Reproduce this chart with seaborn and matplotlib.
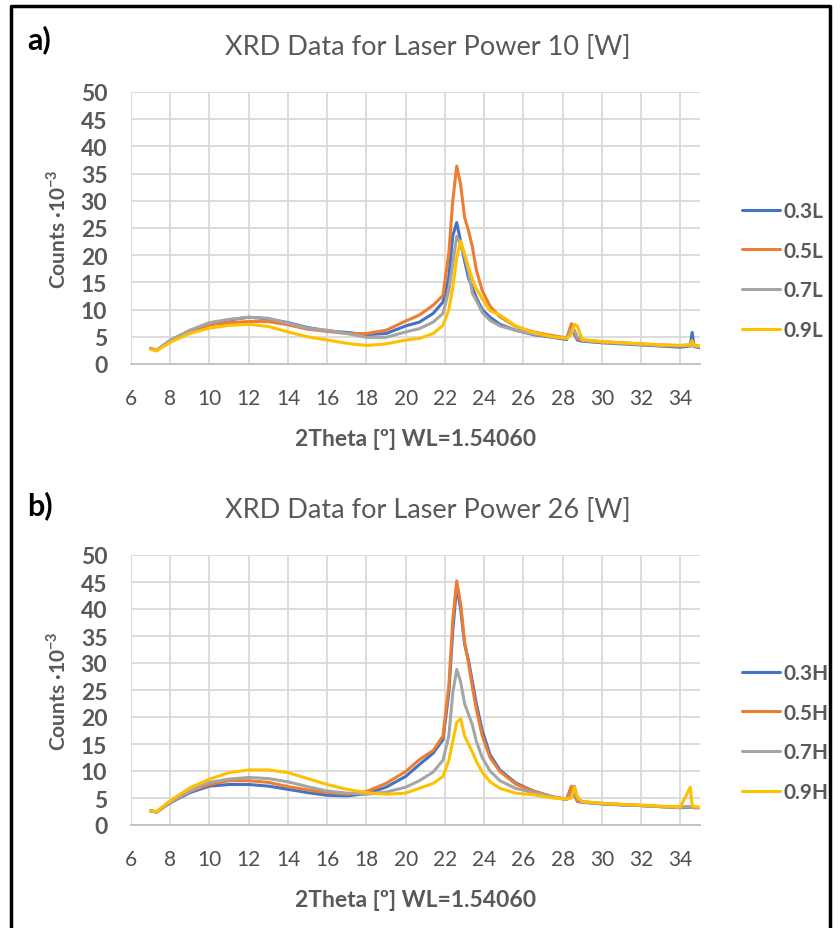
import pandas as pd
import matplotlib
matplotlib.use("Agg")
import matplotlib.pyplot as plt
from matplotlib.lines import Line2D
import seaborn as sns

# 2theta positions (shared by both panels)
two_theta = [7.0, 7.3, 8, 9, 10, 11, 12, 13, 14, 15, 16, 17, 18, 19, 20, 20.7, 21.4, 21.9,
             22.2, 22.4, 22.6, 22.8, 23.0, 23.2, 23.4, 23.6, 23.9, 24.3, 24.8, 25.6, 26.5,
             27.5, 28.2, 28.45, 28.6, 28.75, 29.0, 30, 31, 32, 33, 34, 34.5, 34.6, 34.7, 35]

# a) laser power 10 W  (counts * 10^-3)
low_03 = [2.8, 2.5, 4.3, 6.1, 7.5, 8.1, 8.6, 8.3, 7.6, 6.7, 6.1, 5.8, 5.4, 5.6, 7.0, 7.7, 9.3, 11.4,
          16.0, 23.6, 26.0, 22.5, 19.0, 15.8, 14.0, 12.2, 10.0, 8.6, 7.3, 6.2, 5.4,
          4.9, 4.5, 6.8, 5.5, 4.4, 4.2, 3.9, 3.7, 3.5, 3.3, 3.1, 3.3, 5.8, 3.2, 3.0]
low_05 = [2.9, 2.5, 4.2, 5.8, 7.2, 7.6, 7.8, 7.8, 7.2, 6.4, 6.0, 5.6, 5.6, 6.2, 7.9, 9.0, 10.8, 12.6,
          20.5, 30.0, 36.4, 33.0, 27.0, 24.5, 21.5, 17.3, 13.5, 10.6, 8.7, 6.9, 5.9,
          5.2, 4.8, 7.4, 6.0, 4.6, 4.4, 4.1, 3.9, 3.7, 3.5, 3.4, 3.5, 3.6, 3.4, 3.3]
low_07 = [2.8, 2.5, 4.4, 6.2, 7.6, 8.2, 8.6, 8.4, 7.5, 6.6, 6.2, 5.6, 4.9, 4.9, 5.9, 6.5, 7.7, 9.3,
          13.5, 18.5, 23.5, 22.0, 19.8, 16.9, 13.0, 11.7, 9.5, 8.0, 7.0, 6.2, 5.5,
          5.0, 4.7, 6.5, 6.2, 5.0, 4.3, 4.0, 3.8, 3.6, 3.4, 3.3, 3.4, 3.5, 3.3, 3.2]
low_09 = [2.7, 2.4, 4.0, 5.6, 6.6, 7.1, 7.3, 6.9, 5.9, 5.0, 4.4, 3.8, 3.4, 3.7, 4.4, 4.7, 5.6, 7.1,
          10.0, 14.0, 19.5, 22.6, 20.3, 17.8, 15.6, 13.8, 12.0, 9.8, 9.0, 7.0, 5.8,
          5.0, 4.7, 5.5, 7.3, 7.0, 4.5, 4.1, 3.9, 3.7, 3.5, 3.4, 3.5, 4.3, 3.4, 3.3]

# b) laser power 26 W  (counts * 10^-3)
high_03 = [2.6, 2.4, 4.1, 6.0, 7.2, 7.5, 7.5, 7.2, 6.6, 6.0, 5.5, 5.4, 5.8, 7.0, 9.0, 11.2, 13.3, 15.8,
           24.6, 36.0, 44.3, 40.0, 33.5, 30.5, 26.5, 22.5, 17.5, 13.0, 10.2, 7.8, 6.3,
           5.2, 4.7, 7.0, 5.5, 4.4, 4.2, 3.9, 3.7, 3.6, 3.4, 3.2, 3.3, 3.3, 3.2, 3.2]
high_05 = [2.7, 2.4, 4.2, 6.2, 7.5, 8.2, 8.2, 7.9, 7.1, 6.5, 6.0, 5.7, 6.2, 7.7, 9.9, 12.1, 13.8, 16.5,
           25.8, 38.0, 45.2, 41.0, 34.0, 30.0, 25.5, 21.5, 16.5, 12.5, 9.9, 7.6, 6.3,
           5.2, 4.8, 7.2, 5.8, 4.5, 4.3, 4.0, 3.8, 3.6, 3.4, 3.3, 3.4, 3.3, 3.3, 3.2]
high_07 = [2.6, 2.4, 4.2, 6.3, 7.9, 8.5, 8.8, 8.6, 8.0, 7.1, 6.3, 5.9, 5.7, 6.1, 7.0, 8.2, 9.8, 12.0,
           16.5, 24.5, 28.8, 26.5, 22.5, 20.5, 18.5, 15.5, 12.5, 10.0, 8.2, 6.8, 6.0,
           5.2, 4.8, 5.5, 7.2, 5.0, 4.3, 4.0, 3.8, 3.6, 3.4, 3.3, 3.4, 3.3, 3.3, 3.2]
high_09 = [2.6, 2.5, 4.5, 6.9, 8.5, 9.7, 10.2, 10.2, 9.7, 8.6, 7.5, 6.6, 6.0, 5.7, 5.9, 6.8, 7.7, 9.0,
           12.0, 15.5, 19.0, 19.7, 16.5, 15.0, 13.5, 11.8, 9.8, 8.0, 6.8, 5.9, 5.6,
           5.0, 4.8, 5.0, 7.0, 5.2, 4.3, 4.0, 3.8, 3.7, 3.5, 3.3, 7.0, 3.6, 3.4, 3.3]

labels_low = ["0.3L", "0.5L", "0.7L", "0.9L"]
labels_high = ["0.3H", "0.5H", "0.7H", "0.9H"]

sns.set_style("white")
plt.rcParams['font.family'] = ['Lato', 'DejaVu Sans']
plt.rcParams['mathtext.fontset'] = 'custom'
plt.rcParams['mathtext.rm'] = 'Lato'
plt.rcParams['mathtext.bf'] = 'Lato:bold'

TEXT = '#595959'
GRID = '#D9D9D9'
colors = ['#4472C4', '#ED7D31', '#A5A5A5', '#FFC000']

W, H = 840, 929
fig = plt.figure(figsize=(W / 100, H / 100), dpi=100)


def fig_box(left, top, right, bottom):
    return [left / W, 1 - bottom / H, (right - left) / W, (bottom - top) / H]


def draw_panel(ax, labels, series, title, letter, letter_y, legend_y):
    df = pd.concat([pd.DataFrame({'2theta': two_theta, 'counts': s, 'sample': lab})
                    for lab, s in zip(labels, series)])
    sns.lineplot(data=df, x='2theta', y='counts', hue='sample', palette=colors,
                 linewidth=2.2, estimator=None, ax=ax)
    ax.set_xlim(6, 35)
    ax.set_ylim(0, 50)
    ax.set_xticks(range(6, 35, 2))
    ax.set_yticks(range(0, 51, 5))
    ax.grid(True, color=GRID, linewidth=1.3)
    for side in ['top', 'right', 'left']:
        ax.spines[side].set_visible(False)
    ax.spines['bottom'].set_color('#BFBFBF')
    ax.spines['bottom'].set_linewidth(1.3)
    ax.tick_params(axis='y', length=0, pad=17, labelsize=16.5, labelcolor=TEXT)
    ax.tick_params(axis='x', length=0, pad=17, labelsize=15, labelcolor='#505050')
    for t in ax.get_yticklabels():
        t.set_fontweight('bold')
    ax.set_xlabel('2Theta [º] WL=1.54060', fontsize=16.5, fontweight='bold',
                  color=TEXT, labelpad=15)
    ax.set_ylabel(r'Counts ·10$^{\mathbf{-3}}$', fontsize=15, fontweight='bold',
                  color=TEXT, labelpad=8)
    ax.set_title(title, fontsize=19.5, color=TEXT, x=0.522, pad=27)
    fig.text(27 / W, 1 - letter_y / H, letter, fontsize=22, fontweight='bold',
             color='black', va='center', ha='left')
    handles, _ = ax.get_legend_handles_labels()
    ax.legend(handles, labels, loc='center left', bbox_to_anchor=(742 / W, 1 - legend_y / H),
              bbox_transform=fig.transFigure, frameon=False, borderpad=0, borderaxespad=0,
              handlelength=1.8, handletextpad=0.2, labelspacing=0.95,
              prop={'weight': 'bold', 'size': 15}, labelcolor=TEXT)


ax_a = fig.add_axes(fig_box(131, 93, 700, 365))
draw_panel(ax_a, labels_low, [low_03, low_05, low_07, low_09],
           'XRD Data for Laser Power 10 [W]', 'a)', 40, 271.5)

ax_b = fig.add_axes(fig_box(131, 556, 700, 826))
draw_panel(ax_b, labels_high, [high_03, high_05, high_07, high_09],
           'XRD Data for Laser Power 26 [W]', 'b)', 506, 733.5)

# outer frame (left, top, right edges)
fig.add_artist(Line2D([10.5 / W, 10.5 / W, 829.5 / W, 829.5 / W], [0, 1 - 7 / H, 1 - 7 / H, 0],
                      transform=fig.transFigure, color='black', linewidth=2.5))

fig.savefig('out.png', dpi=100)
